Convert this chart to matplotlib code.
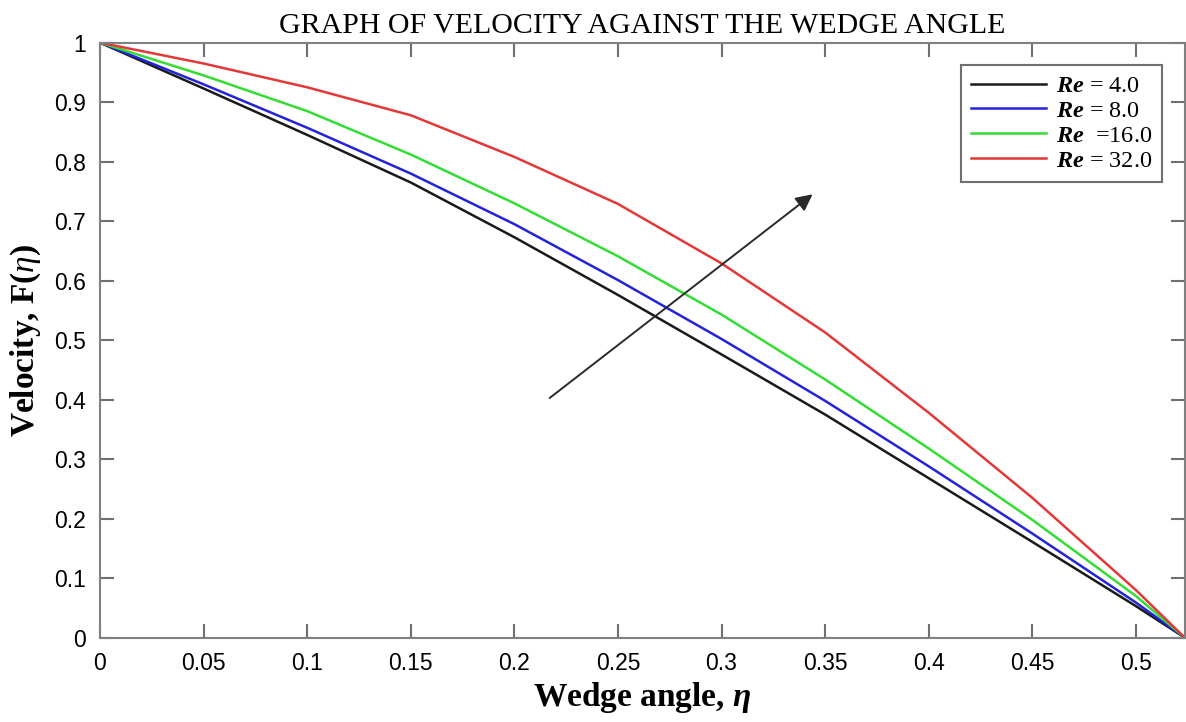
import numpy as np
import matplotlib
matplotlib.use('Agg')
import matplotlib.pyplot as plt
from matplotlib.ticker import FuncFormatter

plt.rcParams['mathtext.fontset'] = 'custom'
plt.rcParams['mathtext.rm'] = 'Liberation Serif'
plt.rcParams['mathtext.it'] = 'Liberation Serif:italic'
plt.rcParams['mathtext.bf'] = 'Liberation Serif:bold'
plt.rcParams['mathtext.bfit'] = 'Liberation Serif:italic:bold'

# Data
eta = [0, 0.05, 0.1, 0.15, 0.2, 0.25, 0.3, 0.35, 0.4, 0.45, 0.5, 0.5236]
F_re4 = [1, 0.923, 0.845, 0.765, 0.673, 0.576, 0.476, 0.375, 0.268, 0.161, 0.053, 0]
F_re8 = [1, 0.930, 0.857, 0.780, 0.695, 0.601, 0.502, 0.398, 0.288, 0.175, 0.059, 0]
F_re16 = [1, 0.945, 0.885, 0.812, 0.730, 0.641, 0.543, 0.434, 0.318, 0.198, 0.070, 0]
F_re32 = [1, 0.965, 0.925, 0.878, 0.808, 0.729, 0.629, 0.513, 0.378, 0.235, 0.080, 0]
labels = [r'$\mathbfit{Re}$ = 4.0', r'$\mathbfit{Re}$ = 8.0',
          r'$\mathbfit{Re}$  =16.0', r'$\mathbfit{Re}$ = 32.0']
colors = ['#1a1a1a', '#2323dc', '#33dd33', '#e43838']

fig = plt.figure(figsize=(11.86, 7.22), dpi=100)
ax = fig.add_axes([0.0843, 0.1168, 0.9147, 0.8241])

for F, lab, c in zip([F_re4, F_re8, F_re16, F_re32], labels, colors):
    ax.plot(eta, F, color=c, lw=1.8, label=lab)

# arrow showing increasing Re
ax.annotate('', xy=(0.345, 0.748), xytext=(0.216, 0.40),
            arrowprops=dict(arrowstyle='-|>', color='#2a2a2a', lw=1.4,
                            mutation_scale=25))

ax.set_xlim(0, 0.5236)
ax.set_ylim(0, 1)
ax.set_xticks(np.arange(0, 0.51, 0.05))
ax.set_yticks(np.arange(0, 1.01, 0.1))
fmt = FuncFormatter(lambda v, p: '%g' % round(v, 2))
ax.xaxis.set_major_formatter(fmt)
ax.yaxis.set_major_formatter(fmt)
ax.tick_params(direction='in', length=10, width=1.5, color='#707070',
               top=True, right=True, labelsize=16.5, pad=10)
for lbl in ax.get_xticklabels() + ax.get_yticklabels():
    lbl.set_family('Liberation Sans')
for s in ax.spines.values():
    s.set_color('#808080')
    s.set_linewidth(1.5)

ax.set_title('GRAPH OF VELOCITY AGAINST THE WEDGE ANGLE',
             fontfamily='Liberation Serif', fontsize=21.5, pad=7)
ax.set_xlabel(r'Wedge angle, $\mathbfit{\eta}$', fontfamily='Liberation Serif',
              fontweight='bold', fontsize=24, labelpad=4)
ax.set_ylabel(r'Velocity, F($\mathit{\eta}$)', fontfamily='Liberation Serif',
              fontweight='bold', fontsize=24, labelpad=8)

leg = ax.legend(loc='upper right', bbox_to_anchor=(0.979, 0.962),
                borderaxespad=0,
                prop={'family': 'Liberation Serif', 'size': 17.5},
                handlelength=3.1, labelspacing=0.12, borderpad=0.4,
                handletextpad=0.4, fancybox=False, framealpha=1,
                edgecolor='#707070')
leg.get_frame().set_linewidth(1.5)

plt.savefig('out.png', dpi=100)
